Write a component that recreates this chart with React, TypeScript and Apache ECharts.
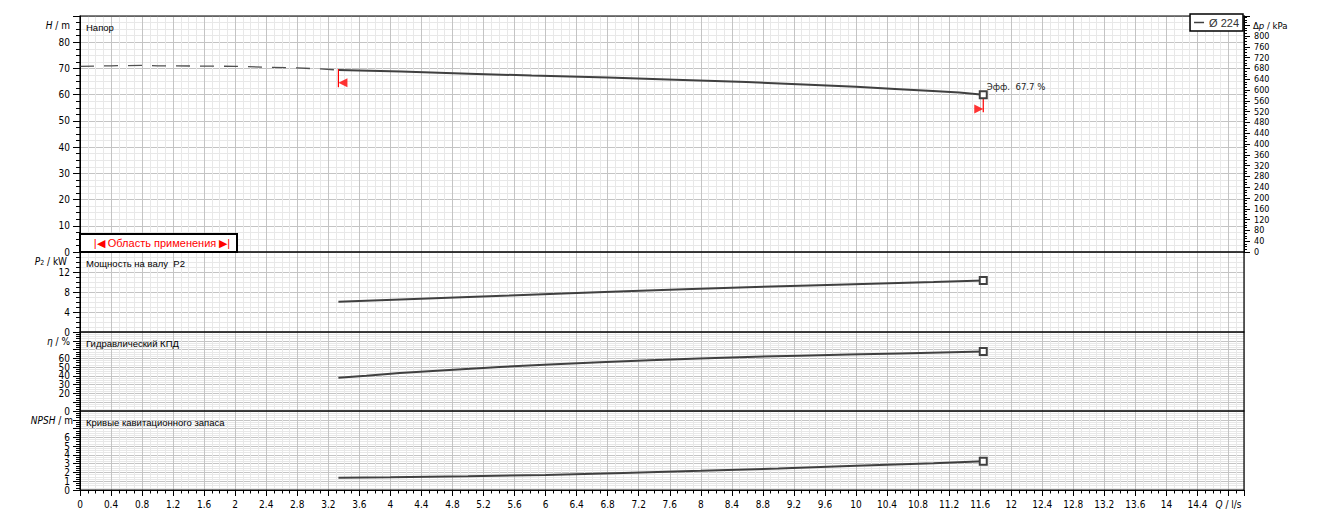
import React, { useEffect, useRef } from "react";
import * as echarts from "echarts";

// ---------- data ----------
const legendName = "Ø 224";
const panelTitles = ["Напор", "Мощность на валу  P2", "Гидравлический КПД", "Кривые кавитационного запаса"];

// Head curve, extrapolated (dashed) part
const hDashQ = [0, 0.4, 0.8, 1.0, 1.6, 2.0, 2.4, 2.8, 3.1, 3.33];
const hDashH = [70.8, 71.0, 71.2, 71.0, 70.9, 70.8, 70.5, 70.2, 69.8, 69.4];
// Head curve, operating range
const hQ = [3.33, 4.14, 5.01, 5.82, 6.8, 7.67, 8.59, 9.4, 10.0, 10.56, 10.99, 11.33, 11.64];
const hH = [69.4, 68.8, 68.0, 67.3, 66.5, 65.7, 64.8, 63.8, 63.0, 62.1, 61.4, 60.8, 60.0];
// Shaft power P2
const pQ = [3.33, 4.13, 4.83, 5.54, 6.31, 7.03, 7.79, 8.6, 9.4, 10.2, 11.0, 11.64];
const pP = [6.05, 6.5, 6.9, 7.3, 7.75, 8.15, 8.55, 8.95, 9.3, 9.65, 10.0, 10.3];
// Hydraulic efficiency
const etaQ = [3.33, 3.69, 4.12, 4.76, 5.41, 6.05, 6.7, 7.34, 7.98, 8.6, 9.27, 9.9, 10.56, 11.1, 11.64];
const etaV = [37.8, 40.2, 43.2, 46.8, 50.2, 53.0, 55.4, 57.8, 59.9, 61.6, 63.0, 64.3, 65.6, 66.6, 67.7];
// NPSH
const npshQ = [3.33, 4, 5, 6, 7, 8, 9, 10, 11, 11.64];
const npshV = [1.4, 1.45, 1.58, 1.72, 1.95, 2.18, 2.45, 2.75, 3.05, 3.27];

// Application range markers (Q, H top, H bottom, H of flag)
const rangeLeft = [3.33, 69.8, 62.8, 64.5];
const rangeRight = [11.64, 60.0, 53.3, 54.5];

// axes extents
const qMax = 15;
const hMax = 90;
const pMax = 16;
const etaMax = 90;
const npshMax = 9;
const dpMax = 874;

const zip = (a: number[], b: number[]) => a.map((q, i) => [q, b[i]]);
const last = (a: number[]) => a[a.length - 1];

const FONT = "'Liberation Sans Narrow', 'DejaVu Sans Condensed', 'Liberation Sans', sans-serif";
const FONT2 = "'Liberation Sans', Arial, sans-serif";
const MAJOR = "#c4c4c4";
const MINOR = "#e8e8e8";
const CURVE = "#404040";

export default function App() {
  const ref = useRef<HTMLDivElement>(null);

  useEffect(() => {
    if (!ref.current) return;
    const chart = echarts.init(ref.current, undefined, { renderer: "svg" });

    const W = 1323;
    const gridTops = [16, 252, 332, 411];
    const gridHeights = [236, 80, 79, 79];
    const left = 80;
    const right = 79;

    const xAxes = gridTops.map((_, i) => {
      const bottom = i === 3;
      return {
        type: "value",
        gridIndex: i,
        min: 0,
        max: qMax,
        interval: 0.4,
        axisLine: { show: bottom, lineStyle: { color: "#000", width: 1 } },
        axisTick: { show: bottom, length: 6, lineStyle: { color: "#000" } },
        minorTick: { show: bottom, splitNumber: 4, length: 3.5, lineStyle: { color: "#000" } },
        axisLabel: {
          show: bottom,
          margin: 9,
          fontSize: 10,
          color: "#000",
          fontFamily: FONT,
          showMinLabel: true,
          formatter: (v: number) => {
            const r = Math.round(v * 10) / 10;
            if (Math.abs(r - 14.8) < 1e-6) return "{i|Q} / l/s";
            if (r > 14.85) return "";
            return String(r);
          },
          rich: { i: { fontStyle: "italic", fontSize: 10, color: "#000", fontFamily: FONT } },
        },
        splitLine: { show: true, lineStyle: { color: MAJOR, width: 1 } },
        minorSplitLine: { show: true, lineStyle: { color: MINOR, width: 1 } },
      };
    });

    const yLeft = (i: number, max: number, interval: number, hideFrom: number, hideZero = false) => ({
      type: "value",
      gridIndex: i,
      position: "left",
      min: 0,
      max,
      interval,
      axisLine: { show: true, lineStyle: { color: "#000", width: 1 } },
      axisTick: { show: true, length: 7, lineStyle: { color: "#000" } },
      minorTick: { show: true, splitNumber: 4, length: 4, lineStyle: { color: "#000" } },
      axisLabel: {
        margin: 10,
        color: "#000",
        fontFamily: FONT,
        showMinLabel: !hideZero,
        hideOverlap: false,
        formatter: (v: number) => (v >= hideFrom || (hideZero && v === 0) ? "" : "{t|" + v + "}"),
        rich: {
          t: { fontSize: 10, lineHeight: 6, height: 6, color: "#000", fontFamily: FONT },
        },
      },
      splitLine: { show: true, lineStyle: { color: MAJOR, width: 1 } },
      minorSplitLine: { show: true, lineStyle: { color: MINOR, width: 1 } },
    });

    const yAxes: any[] = [
      yLeft(0, hMax, 10, 85),
      yLeft(1, pMax, 4, 14),
      yLeft(2, etaMax, 10, 65),
      yLeft(3, npshMax, 1, 6.5, true),
      {
        type: "value",
        gridIndex: 0,
        position: "right",
        min: 0,
        max: dpMax,
        interval: 40,
        axisLine: { show: true, lineStyle: { color: "#000", width: 1 } },
        axisTick: { show: true, length: 6, lineStyle: { color: "#000" } },
        minorTick: { show: true, splitNumber: 4, length: 3, lineStyle: { color: "#000" } },
        axisLabel: {
          margin: 10,
          fontSize: 9,
          lineHeight: 8,
          color: "#000",
          fontFamily: FONT,
          showMinLabel: true,
          formatter: (v: number) => (v > 820 ? "" : String(v)),
        },
        splitLine: { show: false },
        minorSplitLine: { show: false },
      },
      // NPSH zero label (companion axis, same scale)
      {
        type: "value",
        gridIndex: 3,
        position: "left",
        min: 0,
        max: npshMax,
        interval: 1,
        axisLine: { show: false },
        axisTick: { show: false },
        minorTick: { show: false },
        splitLine: { show: false },
        minorSplitLine: { show: false },
        axisLabel: {
          margin: 10,
          color: "#000",
          fontFamily: FONT,
          fontSize: 10,
          showMinLabel: true,
          formatter: (v: number) => (v === 0 ? "0" : ""),
        },
      },
    ];

    const endSquare = (i: number, q: number[], v: number[], extra: any = {}) => ({
      type: "scatter",
      xAxisIndex: i,
      yAxisIndex: i,
      symbol: "rect",
      symbolSize: 7,
      z: 5,
      itemStyle: { color: "#fff", borderColor: CURVE, borderWidth: 2, opacity: 1 },
      data: [[last(q), last(v)]],
      silent: true,
      ...extra,
    });

    const curve = (i: number, q: number[], v: number[], name: string) => ({
      type: "line",
      name,
      xAxisIndex: i,
      yAxisIndex: i,
      symbol: "none",
      smooth: false,
      lineStyle: { color: CURVE, width: 2 },
      itemStyle: { color: CURVE },
      data: zip(q, v),
      z: 3,
    });

    const series: any[] = [
      {
        type: "line",
        name: "H ext",
        xAxisIndex: 0,
        yAxisIndex: 0,
        symbol: "none",
        lineStyle: { color: "#505050", width: 1.3, type: [14, 10] },
        data: zip(hDashQ, hDashH),
        z: 3,
      },
      curve(0, hQ, hH, legendName),
      curve(1, pQ, pP, "P2"),
      curve(2, etaQ, etaV, "eta"),
      curve(3, npshQ, npshV, "NPSH"),
      endSquare(0, hQ, hH, {
        label: {
          show: true,
          position: "right",
          offset: [-6, -8],
          formatter: "Эфф.  " + last(etaV) + " %",
          fontSize: 9.5,
          color: "#222",
          fontFamily: FONT,
        },
      }),
      endSquare(1, pQ, pP),
      endSquare(2, etaQ, etaV),
      endSquare(3, npshQ, npshV),
      // application range markers
      {
        type: "line",
        xAxisIndex: 0,
        yAxisIndex: 0,
        symbol: "none",
        lineStyle: { color: "#ff0000", width: 1.2 },
        data: [[rangeLeft[0], rangeLeft[1]], [rangeLeft[0], rangeLeft[2]]],
        z: 4,
      },
      {
        type: "line",
        xAxisIndex: 0,
        yAxisIndex: 0,
        symbol: "none",
        lineStyle: { color: "#ff0000", width: 1.2 },
        data: [[rangeRight[0], rangeRight[1]], [rangeRight[0], rangeRight[2]]],
        z: 4,
      },
      {
        type: "scatter",
        xAxisIndex: 0,
        yAxisIndex: 0,
        symbol: "triangle",
        symbolSize: [9, 9],
        symbolRotate: 90,
        symbolOffset: [4.5, 0],
        itemStyle: { color: "#ff0000" },
        data: [[rangeLeft[0], rangeLeft[3]]],
        z: 4,
        silent: true,
      },
      {
        type: "scatter",
        xAxisIndex: 0,
        yAxisIndex: 0,
        symbol: "triangle",
        symbolSize: [9, 9],
        symbolRotate: -90,
        symbolOffset: [-4.5, 0],
        itemStyle: { color: "#ff0000" },
        data: [[rangeRight[0], rangeRight[3]]],
        z: 4,
        silent: true,
      },
    ];

    const axisNameX = [70, 67, 70, 73];
    const axisNames = ["{i|H} / m", "{i|P}{s|2} / kW", "{i|η} / %", "{i|NPSH} / m"];

    const graphics: any[] = [];
    gridTops.forEach((t, i) => {
      // panel frame drawn above the grid lines
      graphics.push({
        type: "rect",
        z: 40,
        silent: true,
        shape: { x: left, y: t, width: W - left - right, height: gridHeights[i] },
        style: { fill: "none", stroke: "#000", lineWidth: 1.2 },
      });
      graphics.push({
        type: "text",
        x: left + 6,
        y: t + 11,
        z: 50,
        style: {
          text: panelTitles[i],
          fill: "#000",
          fontSize: 9.5,
          fontFamily: FONT2,
          align: "left",
          verticalAlign: "middle",
        },
      });
      graphics.push({
        type: "text",
        x: axisNameX[i],
        y: t + 9.5,
        z: 50,
        style: {
          text: axisNames[i],
          fill: "#000",
          fontSize: 10,
          fontFamily: FONT,
          align: "right",
          verticalAlign: "middle",
          rich: {
            i: { fontStyle: "italic", fontSize: 10, fontFamily: FONT, fill: "#000" },
            s: { fontSize: 7, fontFamily: FONT, fill: "#000", verticalAlign: "bottom" },
          },
        },
      });
    });
    graphics.push({
      type: "text",
      x: W - right + 9,
      y: 25,
      z: 50,
      style: {
        text: "Δ{i|p} / kPa",
        fill: "#000",
        fontSize: 9.5,
        fontFamily: FONT,
        align: "left",
        verticalAlign: "middle",
        rich: { i: { fontStyle: "italic", fontSize: 9.5, fontFamily: FONT, fill: "#000" } },
      },
    });
    // application range box
    graphics.push({
      type: "rect",
      z: 60,
      shape: { x: left, y: 234, width: 157, height: 18 },
      style: { fill: "#fff", stroke: "#000", lineWidth: 2 },
    });
    graphics.push({
      type: "text",
      z: 61,
      x: left + 82,
      y: 243,
      style: {
        text: "|◀ Область применения ▶|",
        fill: "#ff0000",
        fontSize: 11,
        fontFamily: FONT2,
        align: "center",
        verticalAlign: "middle",
      },
    });

    chart.setOption({
      animation: false,
      backgroundColor: "#fff",
      textStyle: { fontFamily: FONT },
      grid: gridTops.map((t, i) => ({
        left,
        right,
        top: t,
        height: gridHeights[i],
        show: true,
        borderWidth: 0,
        backgroundColor: "#fff",
        containLabel: false,
      })),
      legend: {
        data: [{ name: legendName, icon: "rect" }],
        right: right + 1,
        top: 14,
        itemWidth: 10,
        itemHeight: 1.5,
        itemGap: 4,
        padding: [3, 4, 3, 4],
        backgroundColor: "#fff",
        borderColor: "#000",
        borderWidth: 1.5,
        borderRadius: 0,
        selectedMode: false,
        textStyle: { fontSize: 11, color: "#333", fontFamily: FONT2 },
        z: 45,
      },
      xAxis: xAxes,
      yAxis: yAxes,
      series,
      graphic: graphics,
    });

    return () => chart.dispose();
  }, []);

  return (
    <div
      ref={ref}
      style={{ position: "fixed", left: 0, top: 0, width: 1323, height: 522, background: "#fff" }}
    />
  );
}
